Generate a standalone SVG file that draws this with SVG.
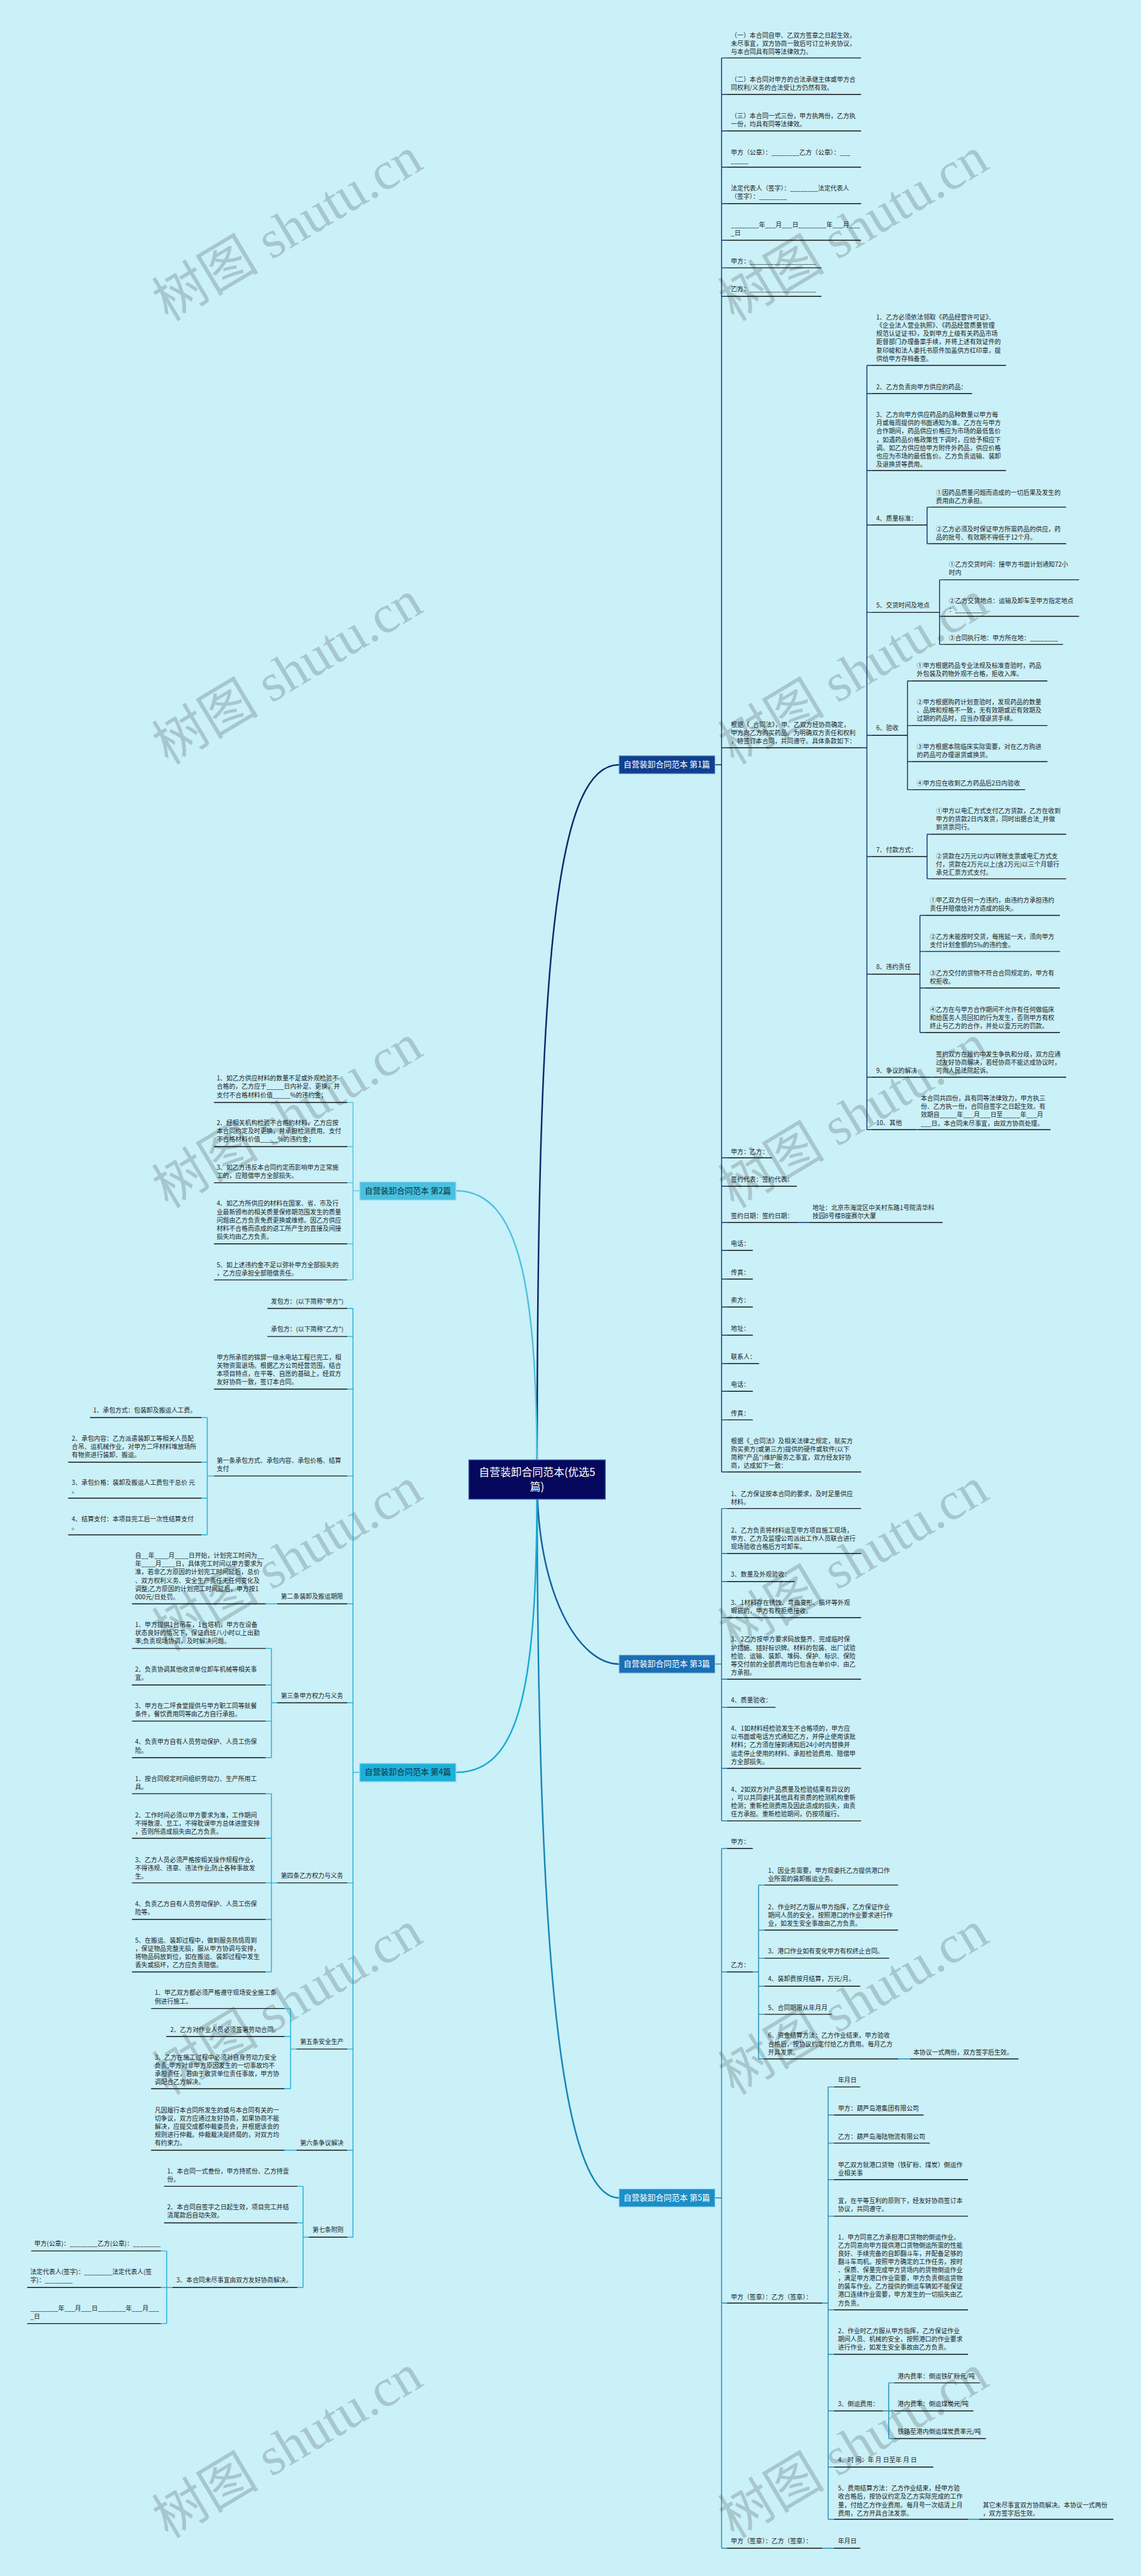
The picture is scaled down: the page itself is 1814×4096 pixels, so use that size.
<svg xmlns="http://www.w3.org/2000/svg" width="1814" height="4096" viewBox="0 0 1814 4096">
<defs><style>
.t{font-family:"Noto Sans CJK SC","Noto Sans",sans-serif;font-size:14px;fill:#1e1e1e}
.u{stroke:#141414;stroke-width:2;fill:none}
.c1{stroke:#10306e;stroke-width:2;fill:none}
.c2{stroke:#4cc4e0;stroke-width:2;fill:none}
.c3{stroke:#1b6aa6;stroke-width:2;fill:none}
.c4{stroke:#1ab0d6;stroke-width:2;fill:none}
.c5{stroke:#1a8bb8;stroke-width:2;fill:none}
.cv{stroke-width:3.5;fill:none;stroke-linecap:round}
.wm{font-family:"Liberation Serif","Noto Sans CJK SC",serif;font-size:120px;fill:#a7c7cd;text-anchor:middle}
.bt{font-family:"Noto Sans CJK SC","Noto Sans",sans-serif;font-size:18px;text-anchor:middle}
.ct{font-family:"Noto Sans CJK SC","Noto Sans",sans-serif;font-size:24px;text-anchor:middle;fill:#ffffff}
</style></defs>
<rect width="1814" height="4096" fill="#caf0f8"/>
<g transform="scale(0.7086)">
<g id="watermarks">
<text class="wm" x="645" y="555" transform="rotate(-31 645 515)">树图 shutu.cn</text>
<text class="wm" x="1915" y="555" transform="rotate(-31 1915 515)">树图 shutu.cn</text>
<text class="wm" x="645" y="1550" transform="rotate(-31 645 1510)">树图 shutu.cn</text>
<text class="wm" x="1915" y="1550" transform="rotate(-31 1915 1510)">树图 shutu.cn</text>
<text class="wm" x="645" y="2545" transform="rotate(-31 645 2505)">树图 shutu.cn</text>
<text class="wm" x="1915" y="2545" transform="rotate(-31 1915 2505)">树图 shutu.cn</text>
<text class="wm" x="645" y="3540" transform="rotate(-31 645 3500)">树图 shutu.cn</text>
<text class="wm" x="1915" y="3540" transform="rotate(-31 1915 3500)">树图 shutu.cn</text>
<text class="wm" x="645" y="4535" transform="rotate(-31 645 4495)">树图 shutu.cn</text>
<text class="wm" x="1915" y="4535" transform="rotate(-31 1915 4495)">树图 shutu.cn</text>
<text class="wm" x="645" y="5530" transform="rotate(-31 645 5490)">树图 shutu.cn</text>
<text class="wm" x="1915" y="5530" transform="rotate(-31 1915 5490)">树图 shutu.cn</text>
</g>
<g id="connectors">
<path class="cv" stroke="#0c2a6a" d="M1205,3320 C1205,2200 1240,1716 1389,1716"/>
<path class="cv" stroke="#175f9e" d="M1205,3320 C1205,3580 1300,3734 1389,3734"/>
<path class="cv" stroke="#1786b5" d="M1205,3320 C1205,4400 1260,4932 1389,4932"/>
<path class="cv" stroke="#4dc2df" d="M1205,3320 C1205,2900 1170,2672 1023,2672"/>
<path class="cv" stroke="#17abd4" d="M1205,3320 C1205,3780 1170,3977 1023,3977"/>
<path class="c1" d="M1604,1716H1619 M1619,130V3303 M1619,130H1631 M1619,212H1631 M1619,294H1631 M1619,375H1631 M1619,457H1631 M1619,539H1631 M1619,601H1631 M1619,665H1631 M1619,1678H1631 M1619,2598H1631 M1619,2662H1631 M1619,2743H1631 M1619,2806H1631 M1619,2870H1631 M1619,2933H1631 M1619,2996H1631 M1619,3060H1631 M1619,3122H1631 M1619,3186H1631 M1619,3303H1631"/>
<path class="c1" d="M1932,1678H1945 M1945,820V2535 M1945,820H1955 M1945,883H1955 M1945,1056H1955 M1945,1178H1955 M1945,1374H1955 M1945,1650H1955 M1945,1922H1955 M1945,2186H1955 M1945,2417H1955 M1945,2535H1955"/>
<path class="c1" d="M2080,1138V1220 M2080,1138H2090 M2080,1220H2090 M2108,1301V1446 M2108,1301H2118 M2108,1383H2118 M2108,1446H2118 M2036,1528V1772 M2036,1528H2046 M2036,1628H2046 M2036,1709H2046 M2036,1772H2046 M2080,1872V1972 M2080,1872H2090 M2080,1972H2090 M2064,2054V2317 M2064,2054H2075 M2064,2135H2075 M2064,2217H2075 M2064,2317H2075 M2089,2417H2093 M2057,2535H2060 M1790,2743H1816"/>
<path class="c3" d="M1604,3734H1619 M1619,3385V4086 M1619,3385H1631 M1619,3486H1631 M1619,3549H1631 M1619,3630H1631 M1619,3768H1631 M1619,3831H1631 M1619,3968H1631 M1619,4086H1631"/>
<path class="c5" d="M1604,4932H1619 M1619,4148V5718 M1619,4148H1631 M1619,4425H1631 M1619,5168H1631 M1619,5718H1631"/>
<path class="c5" d="M1689,4425H1702 M1702,4230V4620 M1702,4230H1715 M1702,4331H1715 M1702,4394H1715 M1702,4457H1715 M1702,4520H1715 M1702,4620H1715 M2015,4620H2042"/>
<path class="c5" d="M1845,5168H1858 M1858,4683V5653 M1858,4683H1871 M1858,4746H1871 M1858,4809H1871 M1858,4891H1871 M1858,4973H1871 M1858,5183H1871 M1858,5283H1871 M1858,5410H1871 M1858,5536H1871 M1858,5653H1871 M1981,5410H1994 M1994,5347V5472 M1994,5347H2006 M1994,5410H2006 M1994,5472H2006 M2172,5653H2197 M1845,5718H1871"/>
<path class="c2" d="M807,2672H792 M792,2474V2872 M779,2474H792 M779,2573H792 M779,2654H792 M779,2791H792 M779,2872H792"/>
<path class="c4" d="M807,3977H792 M792,2936V5020 M779,2936H792 M779,2999H792 M779,3117H792 M779,3312H792 M779,3599H792 M779,3821H792 M779,4225H792 M779,4598H792 M779,4825H792 M779,5020H792"/>
<path class="c4" d="M480,3312H465 M465,3181V3444 M452,3181H465 M452,3281H465 M452,3362H465 M452,3444H465 M622,3599H596 M622,3821H609 M609,3699V3944 M596,3699H609 M596,3781H609 M596,3862H609 M596,3944H609 M622,4225H609 M609,4025V4425 M596,4025H609 M596,4125H609 M596,4225H609 M596,4307H609 M596,4425H609"/>
<path class="c4" d="M665,4598H652 M652,4507V4687 M638,4507H652 M638,4570H652 M638,4687H652 M665,4825H638 M693,5020H680 M680,4906V5133 M667,4906H680 M667,4988H680 M667,5133H680 M387,5133H374 M374,5051V5214 M361,5051H374 M361,5133H374 M361,5214H374"/>
</g>
<g id="center">
<rect x="1052" y="3276" width="306" height="88" fill="#05085c" stroke="#2f5aa8" stroke-width="2"/>
<text class="ct" x="1205" y="3312">自营装卸合同范本(优选5<tspan x="1205" dy="33">篇)</tspan></text>
</g>
<g id="b1"><rect x="1389" y="1696" width="215" height="40" fill="#0f3f8f" stroke="#6d95cf" stroke-width="1.5"/><text class="bt" x="1496" y="1722" fill="#ffffff">自营装卸合同范本 第1篇</text></g>
<g id="b3"><rect x="1389" y="3714" width="215" height="40" fill="#1a6fb5" stroke="#7fb3de" stroke-width="1.5"/><text class="bt" x="1496" y="3740" fill="#ffffff">自营装卸合同范本 第3篇</text></g>
<g id="b5"><rect x="1389" y="4912" width="215" height="40" fill="#1b8fc6" stroke="#86c9e6" stroke-width="1.5"/><text class="bt" x="1496" y="4938" fill="#ffffff">自营装卸合同范本 第5篇</text></g>
<g id="b2"><rect x="807" y="2652" width="216" height="41" fill="#49c0de" stroke="#9de0ef" stroke-width="2"/><text class="bt" x="915" y="2678" fill="#0d3340">自营装卸合同范本 第2篇</text></g>
<g id="b4"><rect x="807" y="3957" width="216" height="41" fill="#1eb0da" stroke="#8fd8ee" stroke-width="2"/><text class="bt" x="915" y="3983" fill="#0d3340">自营装卸合同范本 第4篇</text></g>

<g id="n1_1"><text class="t" x="1640" y="84">（一）本合同自甲、乙双方签章之日起生效，<tspan x="1640" dy="18.5">未尽事宜，双方协商一致后可订立补充协议，</tspan><tspan x="1640" dy="18.5">与本合同具有同等法律效力。</tspan></text><path class="u" d="M1631,130H1932"/></g>
<g id="n1_2"><text class="t" x="1640" y="183">（二）本合同对甲方的合法承继主体或甲方合<tspan x="1640" dy="18.5">同权利/义务的合法受让方仍然有效。</tspan></text><path class="u" d="M1631,212H1932"/></g>
<g id="n1_3"><text class="t" x="1640" y="265">（三）本合同一式三份，甲方执两份，乙方执<tspan x="1640" dy="18.5">一份，均具有同等法律效。</tspan></text><path class="u" d="M1631,294H1932"/></g>
<g id="n1_4"><text class="t" x="1640" y="347">甲方（公章）：________乙方（公章）：___<tspan x="1640" dy="18.5">_____</tspan></text><path class="u" d="M1631,375H1932"/></g>
<g id="n1_5"><text class="t" x="1640" y="428">法定代表人（签字）：________法定代表人<tspan x="1640" dy="18.5">（签字）：________</tspan></text><path class="u" d="M1631,457H1932"/></g>
<g id="n1_6"><text class="t" x="1640" y="509">________年___月___日________年___月___<tspan x="1640" dy="18.5">_日</tspan></text><path class="u" d="M1631,539H1932"/></g>
<g id="n1_7"><text class="t" x="1640" y="592">甲方：___________________</text><path class="u" d="M1631,601H1843"/></g>
<g id="n1_8"><text class="t" x="1640" y="654">乙方：___________________</text><path class="u" d="M1631,665H1843"/></g>
<g id="n1_9"><text class="t" x="1640" y="1631">根据《_合同法》，甲、乙双方经协商确定，<tspan x="1640" dy="18.5">甲方向乙方购买药品。为明确双方责任和权利</tspan><tspan x="1640" dy="18.5">，特签订本合同，共同遵守。具体条款如下：</tspan></text><path class="u" d="M1631,1678H1932"/></g>
<g id="s1"><text class="t" x="1966" y="717">1、乙方必须依法领取《药品经营许可证》、<tspan x="1966" dy="18.5">《企业法人营业执照》、《药品经营质量管理</tspan><tspan x="1966" dy="18.5">规范认证证书》，及到甲方上级有关药品市场</tspan><tspan x="1966" dy="18.5">距督部门办理备案手续，并将上述有效证件的</tspan><tspan x="1966" dy="18.5">复印峻和法人委托书原件加盖供方红印章，提</tspan><tspan x="1966" dy="18.5">供给甲方存档备查。</tspan></text><path class="u" d="M1955,820H2257"/></g>
<g id="s2"><text class="t" x="1966" y="873">2、乙方负责向甲方供应的药品：</text><path class="u" d="M1955,883H2181"/></g>
<g id="s3"><text class="t" x="1966" y="936">3、乙方向甲方供应药品的品种数量以甲方每<tspan x="1966" dy="18.5">月或每周提供的书面通知为准。乙方在与甲方</tspan><tspan x="1966" dy="18.5">合作期间，药品供应价格应为市场的最低售价</tspan><tspan x="1966" dy="18.5">，如遇药品价格政策性下调时，应给予相应下</tspan><tspan x="1966" dy="18.5">调。如乙方供应给甲方附件外药品，供应价格</tspan><tspan x="1966" dy="18.5">也应为市场的最低售价。乙方负责运输、装卸</tspan><tspan x="1966" dy="18.5">及退换货等费用。</tspan></text><path class="u" d="M1955,1056H2257"/></g>
<g id="s4"><text class="t" x="1966" y="1168">4、质量标准：</text><path class="u" d="M1955,1178H2080"/></g>
<g id="s4a"><text class="t" x="2100" y="1110">①因药品质量问题而造成的一切后果及发生的<tspan x="2100" dy="18.5">费用由乙方承担。</tspan></text><path class="u" d="M2090,1138H2392"/></g>
<g id="s4b"><text class="t" x="2100" y="1192">②乙方必须及时保证甲方所需药品的供应，药<tspan x="2100" dy="18.5">品的批号、有效期不得低于12个月。</tspan></text><path class="u" d="M2090,1220H2392"/></g>
<g id="s5"><text class="t" x="1966" y="1363">5、交货时间及地点</text><path class="u" d="M1955,1374H2108"/></g>
<g id="s5a"><text class="t" x="2129" y="1272">①乙方交货时间：接甲方书面计划通知72小<tspan x="2129" dy="18.5">时内</tspan></text><path class="u" d="M2118,1301H2421"/></g>
<g id="s5b"><text class="t" x="2129" y="1354">②乙方交货地点：运输及卸车至甲方指定地点<tspan x="2129" dy="18.5">：________</tspan></text><path class="u" d="M2118,1383H2421"/></g>
<g id="s5c"><text class="t" x="2129" y="1436">③合同执行地：甲方所在地：________</text><path class="u" d="M2118,1446H2385"/></g>
<g id="s6"><text class="t" x="1966" y="1639">6、验收</text><path class="u" d="M1955,1650H2036"/></g>
<g id="s6a"><text class="t" x="2057" y="1499">①甲方根据药品专业法规及标准查验时，药品<tspan x="2057" dy="18.5">外包装及药物外观不合格，拒收入库。</tspan></text><path class="u" d="M2046,1528H2350"/></g>
<g id="s6b"><text class="t" x="2057" y="1580">②甲方根据购药计划查验时，发现药品的数量<tspan x="2057" dy="18.5">、品牌和规格不一致，无有效期或近有效期及</tspan><tspan x="2057" dy="18.5">过期的药品时，应当办理退货手续。</tspan></text><path class="u" d="M2046,1628H2350"/></g>
<g id="s6c"><text class="t" x="2057" y="1681">③甲方根据本院临床实际需要，对在乙方购进<tspan x="2057" dy="18.5">的药品可办理退货或换货。</tspan></text><path class="u" d="M2046,1709H2350"/></g>
<g id="s6d"><text class="t" x="2057" y="1762">④甲方应在收到乙方药品后2日内验收</text><path class="u" d="M2046,1772H2300"/></g>
<g id="s7"><text class="t" x="1966" y="1912">7、付款方式：</text><path class="u" d="M1955,1922H2080"/></g>
<g id="s7a"><text class="t" x="2100" y="1825">①甲方以电汇方式支付乙方货款，乙方在收到<tspan x="2100" dy="18.5">甲方的货款2日内发货，同时出据合法_并做</tspan><tspan x="2100" dy="18.5">到货票同行。</tspan></text><path class="u" d="M2090,1872H2392"/></g>
<g id="s7b"><text class="t" x="2100" y="1926">②货款在2万元以内以转账支票或电汇方式支<tspan x="2100" dy="18.5">付，货款在2万元以上(含2万元)以三个月银行</tspan><tspan x="2100" dy="18.5">承兑汇票方式支付。</tspan></text><path class="u" d="M2090,1972H2392"/></g>
<g id="s8"><text class="t" x="1966" y="2175">8、违约责任</text><path class="u" d="M1955,2186H2064"/></g>
<g id="s8a"><text class="t" x="2086" y="2025">①甲乙双方任何一方违约，由违约方承担违约<tspan x="2086" dy="18.5">责任并赔偿给对方造成的损失。</tspan></text><path class="u" d="M2075,2054H2378"/></g>
<g id="s8b"><text class="t" x="2086" y="2107">②乙方未能按时交货，每拖延一天，须向甲方<tspan x="2086" dy="18.5">支付计划金额的5‰的违约金。</tspan></text><path class="u" d="M2075,2135H2378"/></g>
<g id="s8c"><text class="t" x="2086" y="2189">③乙方交付的货物不符合合同规定的，甲方有<tspan x="2086" dy="18.5">权拒收。</tspan></text><path class="u" d="M2075,2217H2378"/></g>
<g id="s8d"><text class="t" x="2086" y="2270">④乙方在与甲方合作期间不允许有任何做临床<tspan x="2086" dy="18.5">和给医务人员回扣的行为发生，否则甲方有权</tspan><tspan x="2086" dy="18.5">终止与乙方的合作，并处以壹万元的罚款。</tspan></text><path class="u" d="M2075,2317H2378"/></g>
<g id="s9"><text class="t" x="1966" y="2407">9、争议的解决</text><path class="u" d="M1955,2417H2089"/></g>
<g id="s9a"><text class="t" x="2100" y="2371">签约双方在履约中发生争执和分歧，双方应通<tspan x="2100" dy="18.5">过友好协商解决，若经协商不能达成协议时，</tspan><tspan x="2100" dy="18.5">可向人民法院起诉。</tspan></text><path class="u" d="M2093,2417H2392"/></g>
<g id="s10"><text class="t" x="1966" y="2525">10、其他</text><path class="u" d="M1955,2535H2057"/></g>
<g id="s10a"><text class="t" x="2066" y="2470">本合同共四份，具有同等法律效力，甲方执三<tspan x="2066" dy="18.5">份、乙方执一份，合同自签字之日起生效。有</tspan><tspan x="2066" dy="18.5">效期自_____年___月___日至_____年___月</tspan><tspan x="2066" dy="18.5">___日。本合同未尽事宜，由双方协商处理。</tspan></text><path class="u" d="M2060,2535H2357"/></g>
<g id="n1_10"><text class="t" x="1640" y="2589">甲方：乙方：</text><path class="u" d="M1631,2598H1732"/></g>
<g id="n1_11"><text class="t" x="1640" y="2652">签约代表：签约代表：</text><path class="u" d="M1631,2662H1788"/></g>
<g id="n1_12"><text class="t" x="1640" y="2733">签约日期：签约日期：</text><path class="u" d="M1631,2743H1790"/></g>
<g id="n1_12a"><text class="t" x="1823" y="2715">地址：北京市海淀区中关村东路1号院清华科<tspan x="1823" dy="18.5">技园8号楼B座赛尔大厦</tspan></text><path class="u" d="M1816,2743H2115"/></g>
<g id="n1_13"><text class="t" x="1640" y="2796">电话：</text><path class="u" d="M1631,2806H1689"/></g>
<g id="n1_14"><text class="t" x="1640" y="2860">传真：</text><path class="u" d="M1631,2870H1689"/></g>
<g id="n1_15"><text class="t" x="1640" y="2923">卖方：</text><path class="u" d="M1631,2933H1689"/></g>
<g id="n1_16"><text class="t" x="1640" y="2986">地址：</text><path class="u" d="M1631,2996H1689"/></g>
<g id="n1_17"><text class="t" x="1640" y="3049">联系人：</text><path class="u" d="M1631,3060H1703"/></g>
<g id="n1_18"><text class="t" x="1640" y="3112">电话：</text><path class="u" d="M1631,3122H1689"/></g>
<g id="n1_19"><text class="t" x="1640" y="3176">传真：</text><path class="u" d="M1631,3186H1689"/></g>
<g id="n1_20"><text class="t" x="1640" y="3239">根据《_合同法》及相关法律之规定，就买方<tspan x="1640" dy="18.5">购买卖方(或第三方)提供的硬件或软件(以下</tspan><tspan x="1640" dy="18.5">简称"产品")维护服务之事宜，双方经友好协</tspan><tspan x="1640" dy="18.5">商，达成如下一致：</tspan></text><path class="u" d="M1631,3303H1932"/></g>

<g id="n3_1"><text class="t" x="1640" y="3357">1、乙方保证按本合同的要求，及时足量供应<tspan x="1640" dy="18.5">材料。</tspan></text><path class="u" d="M1631,3385H1932"/></g>
<g id="n3_2"><text class="t" x="1640" y="3439">2、乙方负责将材料运至甲方项目施工现场，<tspan x="1640" dy="18.5">甲方、乙方及监理公司派出工作人员联合进行</tspan><tspan x="1640" dy="18.5">现场验收合格后方可卸车。</tspan></text><path class="u" d="M1631,3486H1932"/></g>
<g id="n3_3"><text class="t" x="1640" y="3538">3、数量及外观验收：</text><path class="u" d="M1631,3549H1783"/></g>
<g id="n3_4"><text class="t" x="1640" y="3602">3、1材料存在锈蚀、弯曲变形、损坏等外观<tspan x="1640" dy="18.5">瑕疵的，甲方有权拒绝接收。</tspan></text><path class="u" d="M1631,3630H1932"/></g>
<g id="n3_5"><text class="t" x="1640" y="3684">3、2乙方按甲方要求码放整齐、完成临时保<tspan x="1640" dy="18.5">护措施、插好标识牌。材料的包装、出厂试验</tspan><tspan x="1640" dy="18.5">检验、运输、装卸、堆码、保护、标识、保险</tspan><tspan x="1640" dy="18.5">等交付前的全部费用均已包含在单价中、由乙</tspan><tspan x="1640" dy="18.5">方承担。</tspan></text><path class="u" d="M1631,3768H1932"/></g>
<g id="n3_6"><text class="t" x="1640" y="3820">4、质量验收：</text><path class="u" d="M1631,3831H1740"/></g>
<g id="n3_7"><text class="t" x="1640" y="3884">4、1如材料经检验发生不合格项的，甲方应<tspan x="1640" dy="18.5">以书面或电话方式通知乙方，并停止使用该批</tspan><tspan x="1640" dy="18.5">材料；乙方须在接到通知后24小时内替换并</tspan><tspan x="1640" dy="18.5">运走停止使用的材料、承担检验费用、赔偿甲</tspan><tspan x="1640" dy="18.5">方全部损失。</tspan></text><path class="u" d="M1631,3968H1932"/></g>
<g id="n3_8"><text class="t" x="1640" y="4020">4、2如双方对产品质量及检验结果有异议的<tspan x="1640" dy="18.5">，可以共同委托其他具有资质的检测机构重新</tspan><tspan x="1640" dy="18.5">检测；重新检测费用及因此造成的损失，由责</tspan><tspan x="1640" dy="18.5">任方承担。重新检验期间，仍按项履行。</tspan></text><path class="u" d="M1631,4086H1932"/></g>

<g id="n5_1"><text class="t" x="1640" y="4138">甲方：</text><path class="u" d="M1631,4148H1689"/></g>
<g id="n5_2"><text class="t" x="1640" y="4415">乙方：</text><path class="u" d="M1631,4425H1689"/></g>
<g id="n5_2a"><text class="t" x="1723" y="4202">1、因业务需要，甲方现委托乙方提供港口作<tspan x="1723" dy="18.5">业所需的装卸搬运业务。</tspan></text><path class="u" d="M1715,4230H2015"/></g>
<g id="n5_2b"><text class="t" x="1723" y="4284">2、作业时乙方服从甲方指挥，乙方保证作业<tspan x="1723" dy="18.5">期间人员的安全，按照港口的作业要求进行作</tspan><tspan x="1723" dy="18.5">业，如发生安全事故由乙方负责。</tspan></text><path class="u" d="M1715,4331H2015"/></g>
<g id="n5_2c"><text class="t" x="1723" y="4383">3、港口作业如有变化甲方有权终止合同。</text><path class="u" d="M1715,4394H1995"/></g>
<g id="n5_2d"><text class="t" x="1723" y="4446">4、装卸费按月结算，万元/月。</text><path class="u" d="M1715,4457H1930"/></g>
<g id="n5_2e"><text class="t" x="1723" y="4510">5、合同期限从年月月</text><path class="u" d="M1715,4520H1866"/></g>
<g id="n5_2f"><text class="t" x="1723" y="4573">6、资金结算方法：乙方作业结束，甲方验收<tspan x="1723" dy="18.5">合格后，按协议约定付给乙方费用。每月乙方</tspan><tspan x="1723" dy="18.5">开具发票。</tspan></text><path class="u" d="M1715,4620H2015"/></g>
<g id="n5_2f1"><text class="t" x="2049" y="4610">本协议一式两份，双方签字后生效。</text><path class="u" d="M2042,4620H2285"/></g>
<g id="n5_3"><text class="t" x="1640" y="5159">甲方（签章）：乙方（签章）：</text><path class="u" d="M1631,5168H1845"/></g>
<g id="n5_3a"><text class="t" x="1880" y="4673">年月日</text><path class="u" d="M1871,4683H1930"/></g>
<g id="n5_3b"><text class="t" x="1880" y="4736">甲方：葫芦岛港集团有限公司</text><path class="u" d="M1871,4746H2072"/></g>
<g id="n5_3c"><text class="t" x="1880" y="4799">乙方：葫芦岛海陆物流有限公司</text><path class="u" d="M1871,4809H2086"/></g>
<g id="n5_3d"><text class="t" x="1880" y="4863">甲乙双方就港口货物（铁矿粉、煤炭）倒运作<tspan x="1880" dy="18.5">业相关事</tspan></text><path class="u" d="M1871,4891H2172"/></g>
<g id="n5_3e"><text class="t" x="1880" y="4944">宜，在平等互利的原则下，经友好协商签订本<tspan x="1880" dy="18.5">协议，共同遵守。</tspan></text><path class="u" d="M1871,4973H2172"/></g>
<g id="n5_3f"><text class="t" x="1880" y="5025">1、甲方同意乙方承担港口货物的倒运作业。<tspan x="1880" dy="18.5">乙方同意向甲方提供港口货物倒运所需的性能</tspan><tspan x="1880" dy="18.5">良好、手续完备的自卸翻斗车，并配备足够的</tspan><tspan x="1880" dy="18.5">翻斗车司机。按照甲方确定的工作任务，按时</tspan><tspan x="1880" dy="18.5">、保质、保量完成甲方货场内的货物倒运作业</tspan><tspan x="1880" dy="18.5">，满足甲方港口作业需要，甲方负责倒运货物</tspan><tspan x="1880" dy="18.5">的装车作业。乙方提供的倒运车辆如不能保证</tspan><tspan x="1880" dy="18.5">港口连续作业需要，甲方发生的一切损失由乙</tspan><tspan x="1880" dy="18.5">方负责。</tspan></text><path class="u" d="M1871,5183H2172"/></g>
<g id="n5_3g"><text class="t" x="1880" y="5236">2、作业时乙方服从甲方指挥，乙方保证作业<tspan x="1880" dy="18.5">期间人员、机械的安全，按照港口的作业要求</tspan><tspan x="1880" dy="18.5">进行作业，如发生安全事故由乙方负责。</tspan></text><path class="u" d="M1871,5283H2172"/></g>
<g id="n5_3h"><text class="t" x="1880" y="5399">3、倒运费用：</text><path class="u" d="M1871,5410H1981"/></g>
<g id="n5_3h1"><text class="t" x="2014" y="5337">港内费率：倒运铁矿粉元/吨</text><path class="u" d="M2006,5347H2199"/></g>
<g id="n5_3h2"><text class="t" x="2014" y="5399">港内费率：倒运煤炭元/吨</text><path class="u" d="M2006,5410H2184"/></g>
<g id="n5_3h3"><text class="t" x="2014" y="5462">铁路至港内倒运煤炭费率元/吨</text><path class="u" d="M2006,5472H2212"/></g>
<g id="n5_3i"><text class="t" x="1880" y="5525">4、时 间：年 月 日至年 月 日</text><path class="u" d="M1871,5536H2094"/></g>
<g id="n5_3j"><text class="t" x="1880" y="5589">5、费用结算方法：乙方作业结束，经甲方验<tspan x="1880" dy="18.5">收合格后，按协议约定及乙方实际完成的工作</tspan><tspan x="1880" dy="18.5">量，付给乙方作业费用。每月号一次结清上月</tspan><tspan x="1880" dy="18.5">费用，乙方开具合法发票。</tspan></text><path class="u" d="M1871,5653H2172"/></g>
<g id="n5_3j1"><text class="t" x="2205" y="5626">其它未尽事宜双方协商解决。本协议一式两份<tspan x="2205" dy="18.5">，双方签字后生效。</tspan></text><path class="u" d="M2197,5653H2498"/></g>
<g id="n5_4"><text class="t" x="1640" y="5707">甲方（签章）：乙方（签章）：</text><path class="u" d="M1631,5718H1845"/></g>
<g id="n5_4a"><text class="t" x="1880" y="5707">年月日</text><path class="u" d="M1871,5718H1930"/></g>

<g id="n2_1"><text class="t" x="486" y="2425">1、如乙方供应材料的数量不足或外观检验不<tspan x="486" dy="18.5">合格的，乙方应于_____日内补足、更换，并</tspan><tspan x="486" dy="18.5">支付不合格材料价值_____%的违约金；</tspan></text><path class="u" d="M480,2474H779"/></g>
<g id="n2_2"><text class="t" x="486" y="2525">2、经相关机构检验不合格的材料，乙方应按<tspan x="486" dy="18.5">本合同约定及时更换，并承担检测费用、支付</tspan><tspan x="486" dy="18.5">不合格材料价值_____%的违约金；</tspan></text><path class="u" d="M480,2573H779"/></g>
<g id="n2_3"><text class="t" x="486" y="2625">3、如乙方违反本合同约定而影响甲方正常施<tspan x="486" dy="18.5">工的，应赔偿甲方全部损失。</tspan></text><path class="u" d="M480,2654H779"/></g>
<g id="n2_4"><text class="t" x="486" y="2706">4、如乙方所供应的材料在国家、省、市及行<tspan x="486" dy="18.5">业最新颁布的相关质量保修期范围发生的质量</tspan><tspan x="486" dy="18.5">问题由乙方负责免费更换或维修。因乙方供应</tspan><tspan x="486" dy="18.5">材料不合格而造成的返工所产生的直接及间接</tspan><tspan x="486" dy="18.5">损失均由乙方负责。</tspan></text><path class="u" d="M480,2791H779"/></g>
<g id="n2_5"><text class="t" x="486" y="2843">5、如上述违约金不足以弥补甲方全部损失的<tspan x="486" dy="18.5">，乙方应承担全部赔偿责任。</tspan></text><path class="u" d="M480,2872H779"/></g>

<g id="n4_1"><text class="t" x="608" y="2925">发包方：(以下简称"甲方")</text><path class="u" d="M600,2936H779"/></g>
<g id="n4_2"><text class="t" x="608" y="2988">承包方：(以下简称"乙方")</text><path class="u" d="M600,2999H779"/></g>
<g id="n4_3"><text class="t" x="486" y="3051">甲方所承揽的锦屏一级水电站工程已完工，相<tspan x="486" dy="18.5">关物资需退场。根据乙方公司经营范围，结合</tspan><tspan x="486" dy="18.5">本项目特点，在平等、自愿的基础上，经双方</tspan><tspan x="486" dy="18.5">友好协商一致，签订本合同。</tspan></text><path class="u" d="M480,3117H779"/></g>
<g id="n4_4"><text class="t" x="486" y="3283">第一条承包方式、承包内容、承包价格、结算<tspan x="486" dy="18.5">支付</tspan></text><path class="u" d="M480,3312H779"/></g>
<g id="n4_4a"><text class="t" x="209" y="3169">1、承包方式：包装卸及搬运人工费。</text><path class="u" d="M202,3181H452"/></g>
<g id="n4_4b"><text class="t" x="161" y="3233">2、承包内容：乙方派遣装卸工等相关人员配<tspan x="161" dy="18.5">合吊、运机械作业，对甲方二坪材料堆放场所</tspan><tspan x="161" dy="18.5">有物资进行装卸、搬运。</tspan></text><path class="u" d="M153,3281H452"/></g>
<g id="n4_4c"><text class="t" x="161" y="3332">3、承包价格：装卸及搬运人工费包干总价 元<tspan x="161" dy="18.5">。</tspan></text><path class="u" d="M153,3362H452"/></g>
<g id="n4_4d"><text class="t" x="161" y="3414">4、结算支付：本项目完工后一次性结算支付<tspan x="161" dy="18.5">。</tspan></text><path class="u" d="M153,3444H452"/></g>
<g id="n4_5"><text class="t" x="630" y="3587">第二条装卸及搬运期限</text><path class="u" d="M622,3599H779"/></g>
<g id="n4_5a"><text class="t" x="303" y="3496">自__年____月____日开始，计划完工时间为__<tspan x="303" dy="18.5">年____月____日，具体完工时间以甲方要求为</tspan><tspan x="303" dy="18.5">准，若非乙方原因的计划完工时间延后，总价</tspan><tspan x="303" dy="18.5">、双方权利义务、安全生产责任无任何变化及</tspan><tspan x="303" dy="18.5">调整;乙方原因的计划完工时间延后，甲方按1</tspan><tspan x="303" dy="18.5">000元/日处罚。</tspan></text><path class="u" d="M296,3599H596"/></g>
<g id="n4_6"><text class="t" x="630" y="3810">第三条甲方权力与义务</text><path class="u" d="M622,3821H779"/></g>
<g id="n4_6a"><text class="t" x="303" y="3651">1、甲方提供1台吊车，1台塔机，甲方在设备<tspan x="303" dy="18.5">状态良好的情况下，保证白班八小时以上出勤</tspan><tspan x="303" dy="18.5">率;负责现场协调，及时解决问题。</tspan></text><path class="u" d="M296,3699H596"/></g>
<g id="n4_6b"><text class="t" x="303" y="3751">2、负责协调其他收货单位卸车机械等相关事<tspan x="303" dy="18.5">宜。</tspan></text><path class="u" d="M296,3781H596"/></g>
<g id="n4_6c"><text class="t" x="303" y="3833">3、甲方在二坪食堂提供与甲方职工同等就餐<tspan x="303" dy="18.5">条件，餐饮费用同等由乙方自行承担。</tspan></text><path class="u" d="M296,3862H596"/></g>
<g id="n4_6d"><text class="t" x="303" y="3914">4、负责甲方自有人员劳动保护、人员工伤保<tspan x="303" dy="18.5">险。</tspan></text><path class="u" d="M296,3944H596"/></g>
<g id="n4_7"><text class="t" x="630" y="4214">第四条乙方权力与义务</text><path class="u" d="M622,4225H779"/></g>
<g id="n4_7a"><text class="t" x="303" y="3996">1、按合同规定时间组织劳动力、生产所用工<tspan x="303" dy="18.5">具。</tspan></text><path class="u" d="M296,4025H596"/></g>
<g id="n4_7b"><text class="t" x="303" y="4078">2、工作时间必须以甲方要求为准，工作期间<tspan x="303" dy="18.5">不得散漫、怠工，不得耽误甲方总体进度安排</tspan><tspan x="303" dy="18.5">，否则所造成损失由乙方负责。</tspan></text><path class="u" d="M296,4125H596"/></g>
<g id="n4_7c"><text class="t" x="303" y="4178">3、乙方人员必须严格按相关操作规程作业，<tspan x="303" dy="18.5">不得违规、违章、违法作业;防止各种事故发</tspan><tspan x="303" dy="18.5">生。</tspan></text><path class="u" d="M296,4225H596"/></g>
<g id="n4_7d"><text class="t" x="303" y="4277">4、负责乙方自有人员劳动保护、人员工伤保<tspan x="303" dy="18.5">险等。</tspan></text><path class="u" d="M296,4307H596"/></g>
<g id="n4_7e"><text class="t" x="303" y="4359">5、在搬运、装卸过程中，做到服务热情周到<tspan x="303" dy="18.5">，保证物品完整无损，服从甲方协调与安排，</tspan><tspan x="303" dy="18.5">将物品码放到位，如在搬运、装卸过程中发生</tspan><tspan x="303" dy="18.5">丢失或损坏，乙方应负责赔偿。</tspan></text><path class="u" d="M296,4425H596"/></g>
<g id="n4_8"><text class="t" x="673" y="4586">第五条安全生产</text><path class="u" d="M665,4598H779"/></g>
<g id="n4_8a"><text class="t" x="347" y="4477">1、甲乙双方都必须严格遵守现场安全施工条<tspan x="347" dy="18.5">例进行施工。</tspan></text><path class="u" d="M339,4507H638"/></g>
<g id="n4_8b"><text class="t" x="382" y="4559">2、乙方对作业人员必须签署劳动合同。</text><path class="u" d="M373,4570H638"/></g>
<g id="n4_8c"><text class="t" x="347" y="4622">3、乙方在施工过程中必须对自身劳动力安全<tspan x="347" dy="18.5">负责;甲方对非甲方原因发生的一切事故均不</tspan><tspan x="347" dy="18.5">承担责任，若由于收货单位责任事故，甲方协</tspan><tspan x="347" dy="18.5">调配合乙方解决。</tspan></text><path class="u" d="M339,4687H638"/></g>
<g id="n4_9"><text class="t" x="673" y="4814">第六条争议解决</text><path class="u" d="M665,4825H779"/></g>
<g id="n4_9a"><text class="t" x="347" y="4740">凡因履行本合同所发生的或与本合同有关的一<tspan x="347" dy="18.5">切争议，双方应通过友好协商，如果协商不能</tspan><tspan x="347" dy="18.5">解决，应提交成都仲裁委员会，并根据该会的</tspan><tspan x="347" dy="18.5">规则进行仲裁。仲裁裁决是终局的，对双方均</tspan><tspan x="347" dy="18.5">有约束力。</tspan></text><path class="u" d="M339,4825H638"/></g>
<g id="n4_10"><text class="t" x="701" y="5008">第七条附则</text><path class="u" d="M693,5020H779"/></g>
<g id="n4_10a"><text class="t" x="375" y="4877">1、本合同一式叁份，甲方持贰份、乙方持壹<tspan x="375" dy="18.5">份。</tspan></text><path class="u" d="M368,4906H667"/></g>
<g id="n4_10b"><text class="t" x="375" y="4958">2、本合同自签字之日起生效，项目完工并结<tspan x="375" dy="18.5">清尾款后自动失效。</tspan></text><path class="u" d="M368,4988H667"/></g>
<g id="n4_10c"><text class="t" x="396" y="5122">3、本合同未尽事宜由双方友好协商解决。</text><path class="u" d="M387,5133H667"/></g>
<g id="n4_10c1"><text class="t" x="77" y="5040">甲方(公章)：________乙方(公章)：________</text><path class="u" d="M70,5051H361"/></g>
<g id="n4_10c2"><text class="t" x="68" y="5103">法定代表人(签字)：________法定代表人(签<tspan x="68" dy="18.5">字)：________</tspan></text><path class="u" d="M61,5133H361"/></g>
<g id="n4_10c3"><text class="t" x="68" y="5185">________年___月___日________年___月___<tspan x="68" dy="18.5">_日</tspan></text><path class="u" d="M61,5214H361"/></g>
</g>
</svg>
